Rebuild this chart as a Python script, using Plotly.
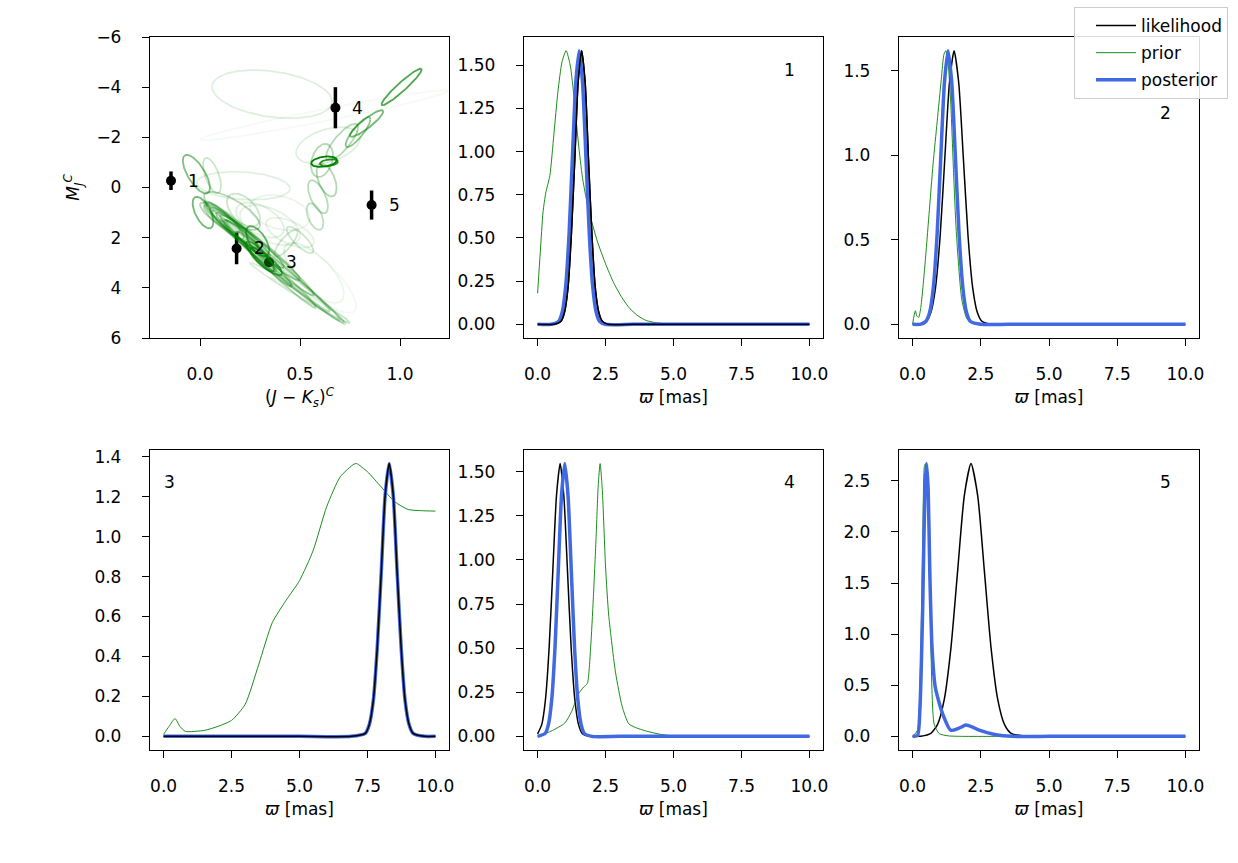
import numpy as np
import plotly.graph_objects as go

# ---------------- colour-magnitude diagram data ----------------
star_ids = ["1", "2", "3", "4", "5"]
star_color = [-0.145, 0.183, 0.345, 0.677, 0.858]
star_mag = [-0.27, 2.43, 2.98, -3.18, 0.70]
star_mag_err = [0.37, 0.63, 0.06, 0.82, 0.58]

# prior mixture components: centre, sigma_colour, sigma_mag, correlation, weight(alpha)
ell_cx = [0.36, 0.62, 1.008, 0.833, 0.79, 0.71, 0.64, 0.61, 0.62, 0.645, 0.633, 0.59, 0.575, 0.50, 0.43,
          -0.018, 0.06, 0.015, 0.217, 0.16, 0.217, 0.288, 0.30, 0.35, 0.40, 0.45, 0.57, 0.60,
          0.40, 0.42, 0.38, 0.45, 0.35, 0.30, 0.25, 0.20, 0.16, 0.33, 0.30, 0.50, 0.55, 0.10, 0.13,
          0.12, 0.18, 0.24, 0.28, 0.34, 0.40]
ell_cy = [-3.72, -2.88, -4.01, -2.55, -2.21, -1.81, -1.68, -1.08, -1.03, -0.99, -0.30, 0.37, 1.16, 2.09, 2.22,
          -0.53, -0.48, 1.00, -0.07, 0.93, 0.90, 2.14, 1.30, 1.50, 1.00, 1.80, 3.40, 3.60,
          3.30, 3.45, 3.10, 3.70, 2.80, 2.40, 2.10, 1.80, 1.50, 2.95, 2.75, 4.20, 4.50, 1.20, 1.40,
          1.30, 1.75, 2.20, 2.55, 3.05, 3.50]
ell_sx = [0.30, 0.62, 0.10, 0.083, 0.062, 0.08, 0.16, 0.055, 0.064, 0.045, 0.05, 0.05, 0.042, 0.067, 0.058,
          0.068, 0.045, 0.052, 0.233, 0.14, 0.083, 0.058, 0.12, 0.15, 0.15, 0.12, 0.15, 0.18,
          0.30, 0.30, 0.27, 0.28, 0.22, 0.20, 0.17, 0.15, 0.13, 0.08, 0.07, 0.25, 0.20, 0.10, 0.11,
          0.10, 0.12, 0.12, 0.10, 0.12, 0.18]
ell_sy = [0.96, 1.00, 0.73, 0.53, 0.60, 0.73, 0.73, 0.66, 0.21, 0.14, 0.66, 0.66, 0.53, 0.53, 0.53,
          0.77, 0.70, 0.63, 0.56, 0.76, 0.66, 0.60, 0.70, 0.80, 0.70, 0.60, 1.20, 1.40,
          2.00, 1.95, 1.85, 1.75, 1.50, 1.30, 1.10, 1.00, 0.90, 0.55, 0.60, 1.20, 0.90, 0.60, 0.70,
          0.75, 0.85, 0.90, 0.80, 0.90, 1.30]
ell_rho = [0.30, -0.97, -0.95, -0.90, -0.85, -0.80, -0.40, -0.30, -0.30, -0.30, 0.50, 0.60, 0.50, 0.80, -0.80,
           0.70, 0.60, 0.60, 0.20, 0.75, 0.50, 0.60, 0.50, 0.50, 0.30, 0.60, 0.70, 0.80,
           0.99, 0.992, 0.99, 0.993, 0.98, 0.97, 0.96, 0.95, 0.93, 0.85, 0.85, 0.99, 0.99, 0.85, 0.88,
           0.90, 0.93, 0.95, 0.95, 0.97, 0.985]
ell_alpha = [0.13, 0.04, 0.70, 0.55, 0.45, 0.30, 0.12, 0.30, 1.00, 0.85, 0.30, 0.28, 0.25, 0.20, 0.20,
             0.50, 0.20, 0.55, 0.12, 0.30, 0.20, 0.60, 0.12, 0.10, 0.08, 0.10, 0.07, 0.05,
             0.22, 0.22, 0.28, 0.18, 0.35, 0.38, 0.40, 0.40, 0.40, 0.70, 0.60, 0.14, 0.08, 0.30, 0.30,
             0.35, 0.35, 0.35, 0.40, 0.45, 0.30]

# ---------------- parallax densities ----------------
# star 1
lik1_x = [0, 0.6, 0.86, 0.99, 1.12, 1.24, 1.37, 1.49, 1.62, 1.75, 1.87, 2.00, 2.12, 2.25, 2.38, 2.6, 3.5, 5, 7.5, 10]
lik1_y = [0, 0, 0.018, 0.070, 0.214, 0.514, 0.961, 1.398, 1.584, 1.398, 0.961, 0.514, 0.214, 0.070, 0.018, 0,
          0, 0, 0, 0]
pri1_x = [0, 0.1, 0.2, 0.3, 0.45, 0.6, 0.75, 0.9, 1.05, 1.2, 1.35, 1.5, 1.65, 1.8, 2.0, 2.2, 2.5, 2.8, 3.1,
          3.4, 3.7, 4.0, 4.4, 5.0, 6.0, 7.5, 10]
pri1_y = [0.18, 0.42, 0.65, 0.76, 0.86, 1.10, 1.35, 1.52, 1.584, 1.50, 1.30, 1.05, 0.85, 0.72, 0.59, 0.48,
          0.35, 0.24, 0.155, 0.09, 0.048, 0.022, 0.008, 0.001, 0, 0, 0]
pos1_x = [0, 0.5, 0.78, 0.905, 1.03, 1.155, 1.28, 1.405, 1.53, 1.655, 1.78, 1.905, 2.03, 2.155, 2.28, 2.5,
          3.5, 5, 7.5, 10]
pos1_y = [0, 0, 0.018, 0.070, 0.214, 0.514, 0.961, 1.398, 1.584, 1.398, 0.961, 0.514, 0.214, 0.070, 0.018, 0,
          0, 0, 0, 0]

# star 2
lik2_x = [0, 0.3, 0.5, 0.67, 0.84, 1.01, 1.18, 1.35, 1.52, 1.69, 1.86, 2.03, 2.2, 2.37, 2.54, 2.9, 4, 5.5, 7.5, 10]
lik2_y = [0, 0.001, 0.018, 0.071, 0.219, 0.526, 0.983, 1.430, 1.62, 1.430, 0.983, 0.526, 0.219, 0.071, 0.018, 0,
          0, 0, 0, 0]
pri2_x = [0, 0.05, 0.1, 0.15, 0.22, 0.3, 0.45, 0.6, 0.75, 0.9, 1.05, 1.15, 1.22, 1.3, 1.4, 1.5, 1.6, 1.8,
          2.0, 2.3, 3.5, 5.5, 7.5, 10]
pri2_y = [0, 0.05, 0.08, 0.05, 0.04, 0.10, 0.35, 0.65, 0.95, 1.20, 1.45, 1.60, 1.62, 1.55, 1.30, 0.90,
          0.55, 0.15, 0.03, 0, 0, 0, 0, 0]
pos2_x = [0, 0.3, 0.49, 0.625, 0.76, 0.895, 1.03, 1.165, 1.3, 1.435, 1.57, 1.705, 1.84, 1.975, 2.11, 2.5,
          3.5, 5.5, 7.5, 10]
pos2_y = [0, 0.001, 0.018, 0.071, 0.219, 0.526, 0.983, 1.430, 1.62, 1.430, 0.983, 0.526, 0.219, 0.071, 0.018, 0,
          0, 0, 0, 0]

# star 3
lik3_x = [0, 2.5, 5, 6.9, 7.42, 7.57, 7.72, 7.86, 8.01, 8.15, 8.3, 8.45, 8.59, 8.74, 8.88, 9.03, 9.18, 9.6, 10]
lik3_y = [0, 0, 0, 0, 0.015, 0.060, 0.185, 0.444, 0.828, 1.205, 1.366, 1.205, 0.828, 0.444, 0.185, 0.060,
          0.015, 0, 0]
pri3_x = [0, 0.2, 0.42, 0.6, 0.8, 1.5, 2.0, 2.5, 3.0, 3.5, 4.0, 4.5, 5.0, 5.5, 6.0, 6.5, 7.0, 7.1, 7.5,
          8.0, 8.5, 9.0, 9.5, 10]
pri3_y = [0.01, 0.05, 0.089, 0.05, 0.025, 0.03, 0.05, 0.08, 0.16, 0.36, 0.57, 0.68, 0.78, 0.93, 1.15,
          1.30, 1.363, 1.366, 1.325, 1.25, 1.175, 1.136, 1.13, 1.128]
pos3_x = [0, 2.5, 5, 6.9, 7.42, 7.57, 7.72, 7.86, 8.01, 8.15, 8.3, 8.45, 8.59, 8.74, 8.88, 9.03, 9.18, 9.6, 10]
pos3_y = [0, 0, 0, 0, 0.015, 0.060, 0.185, 0.444, 0.828, 1.205, 1.366, 1.205, 0.828, 0.444, 0.185, 0.060,
          0.015, 0, 0]

# star 4
lik4_x = [0, 0.155, 0.29, 0.425, 0.56, 0.695, 0.83, 0.965, 1.1, 1.235, 1.37, 1.505, 1.64, 1.9, 3, 5, 7.5, 10]
lik4_y = [0.014, 0.068, 0.209, 0.502, 0.938, 1.364, 1.546, 1.364, 0.938, 0.502, 0.209, 0.068, 0.017, 0.001,
          0, 0, 0, 0]
pri4_x = [0, 0.5, 1.0, 1.25, 1.5, 1.7, 1.83, 1.95, 2.05, 2.15, 2.23, 2.3, 2.38, 2.5, 2.62, 2.87, 3.11,
          3.35, 3.6, 4.0, 4.5, 5.0, 6.5, 8, 10]
pri4_y = [0, 0.03, 0.075, 0.14, 0.24, 0.28, 0.30, 0.50, 0.78, 1.12, 1.42, 1.546, 1.40, 0.96, 0.68, 0.36,
          0.17, 0.072, 0.05, 0.03, 0.012, 0.003, 0, 0, 0]
pos4_x = [0, 0.28, 0.4, 0.52, 0.64, 0.76, 0.88, 1.0, 1.12, 1.24, 1.36, 1.48, 1.6, 1.72, 2.0, 3, 5, 7.5, 10]
pos4_y = [0, 0.017, 0.068, 0.209, 0.502, 0.938, 1.364, 1.546, 1.364, 0.938, 0.502, 0.209, 0.068, 0.017, 0,
          0, 0, 0, 0]

# star 5
lik5_x = [0, 0.3, 0.67, 0.915, 1.16, 1.405, 1.65, 1.895, 2.14, 2.385, 2.63, 2.875, 3.12, 3.365, 3.61, 4.2,
          5.5, 7.5, 10]
lik5_y = [0, 0.002, 0.030, 0.117, 0.361, 0.866, 1.618, 2.355, 2.668, 2.355, 1.618, 0.866, 0.361, 0.117,
          0.030, 0, 0, 0, 0]
pri5_x = [0, 0.18, 0.28, 0.37, 0.43, 0.47, 0.52, 0.61, 0.67, 0.79, 0.98, 1.3, 1.83, 3, 5, 7.5, 10]
pri5_y = [0, 0.06, 0.61, 1.92, 2.64, 2.668, 2.50, 1.92, 0.87, 0.12, 0.026, 0.005, 0, 0, 0, 0, 0]
pos5_x = [0, 0.18, 0.27, 0.37, 0.45, 0.51, 0.57, 0.63, 0.71, 0.83, 1.1, 1.4, 1.7, 1.95, 2.2, 2.44, 3.05,
          3.66, 5, 7.5, 10]
pos5_y = [0, 0.01, 0.29, 1.27, 2.41, 2.668, 2.41, 1.60, 0.87, 0.48, 0.22, 0.06, 0.08, 0.11, 0.09, 0.06,
          0.016, 0, 0, 0, 0]

lik_x = [lik1_x, lik2_x, lik3_x, lik4_x, lik5_x]
lik_y = [lik1_y, lik2_y, lik3_y, lik4_y, lik5_y]
pri_x = [pri1_x, pri2_x, pri3_x, pri4_x, pri5_x]
pri_y = [pri1_y, pri2_y, pri3_y, pri4_y, pri5_y]
pos_x = [pos1_x, pos2_x, pos3_x, pos4_x, pos5_x]
pos_y = [pos1_y, pos2_y, pos3_y, pos4_y, pos5_y]

# ---------------- figure ----------------
W, H = 1238, 863
FONT = "DejaVu Sans"
FS = 17

def px_x(a, b):
    return [a / W, b / W]

def px_y(top, bot):
    return [1 - bot / H, 1 - top / H]

fig = go.Figure()

# CMD points with error bars
fig.add_trace(go.Scatter(
    x=star_color, y=star_mag, mode="markers",
    marker=dict(color="black", size=10),
    error_y=dict(type="data", array=star_mag_err, color="black", thickness=3.5, width=0),
    showlegend=False, xaxis="x", yaxis="y", cliponaxis=False))

# prior mixture ellipses
t = np.linspace(0, 2 * np.pi, 160)
circle = np.vstack([np.cos(t), np.sin(t)])
for cx, cy, sx, sy, r, a in zip(ell_cx, ell_cy, ell_sx, ell_sy, ell_rho, ell_alpha):
    cov = np.array([[sx * sx, r * sx * sy], [r * sx * sy, sy * sy]])
    L = np.linalg.cholesky(cov)
    pts = L @ circle
    fig.add_trace(go.Scatter(
        x=cx + pts[0], y=cy + pts[1], mode="lines",
        line=dict(color=f"rgba(0,128,0,{a})", width=1.8),
        showlegend=False, hoverinfo="skip", xaxis="x", yaxis="y"))

# point labels
for sid, cx, cy in zip(star_ids, star_color, star_mag):
    fig.add_annotation(x=cx + 0.075, y=cy, text=sid, showarrow=False, xanchor="left",
                       yanchor="middle", xref="x", yref="y",
                       font=dict(family=FONT, size=FS, color="black"))

# density panels
for i in range(5):
    ax = str(i + 2)
    first = (i == 0)
    fig.add_trace(go.Scatter(x=lik_x[i], y=lik_y[i], mode="lines", name="likelihood",
                             line=dict(color="black", width=1.5, shape="spline", smoothing=0.6),
                             showlegend=first, legendgroup="a", xaxis="x" + ax, yaxis="y" + ax))
    fig.add_trace(go.Scatter(x=pri_x[i], y=pri_y[i], mode="lines", name="prior",
                             line=dict(color="green", width=0.9, shape="spline", smoothing=0.6),
                             showlegend=first, legendgroup="b", xaxis="x" + ax, yaxis="y" + ax))
    fig.add_trace(go.Scatter(x=pos_x[i], y=pos_y[i], mode="lines", name="posterior",
                             line=dict(color="royalblue", width=3.5, shape="spline", smoothing=0.6),
                             showlegend=first, legendgroup="c", xaxis="x" + ax, yaxis="y" + ax))
    if i in (0, 2):
        fig.add_trace(go.Scatter(x=lik_x[i], y=lik_y[i], mode="lines", name="likelihood",
                                 line=dict(color="black", width=1.5, shape="spline", smoothing=0.6),
                                 showlegend=False, xaxis="x" + ax, yaxis="y" + ax, hoverinfo="skip"))

axis_common = dict(showline=True, linecolor="black", linewidth=1.3, mirror=True, ticks="outside",
                   ticklen=7, tickwidth=1.3, tickcolor="black", showgrid=False, zeroline=False,
                   automargin=False, tickfont=dict(family=FONT, size=FS, color="black"))

xdoms = [px_x(150, 449), px_x(524, 823), px_x(899, 1199)]
ydoms = [px_y(37, 338), px_y(450, 750)]
title_font = dict(family=FONT, size=FS, color="black")

fig.update_layout(
    xaxis=dict(domain=xdoms[0], range=[-0.25, 1.245], tickvals=[0.0, 0.5, 1.0], tickformat=".1f",
               anchor="y", ticklabelstandoff=13,
               title=dict(text="(<i>J</i> − <i>K<sub>s</sub></i>)<sup><i>C</i></sup>",
                          font=title_font, standoff=8),
               **axis_common),
    yaxis=dict(domain=ydoms[0], range=[6, -6], tickvals=[-6, -4, -2, 0, 2, 4, 6], anchor="x",
               ticklabelstandoff=17,
               title=dict(text="<i>M<sub>J</sub><sup>C</sup></i>", font=title_font, standoff=12),
               **axis_common),
)

yranges = [[-0.0792, 1.663], [-0.081, 1.701], [-0.0683, 1.434], [-0.0773, 1.623], [-0.1334, 2.801]]
yticks = [[0, 0.25, 0.5, 0.75, 1.0, 1.25, 1.5], [0, 0.5, 1.0, 1.5], [0, 0.2, 0.4, 0.6, 0.8, 1.0, 1.2, 1.4],
          [0, 0.25, 0.5, 0.75, 1.0, 1.25, 1.5], [0, 0.5, 1.0, 1.5, 2.0, 2.5]]
yfmts = [".2f", ".1f", ".1f", ".2f", ".1f"]
positions = [(1, 0), (2, 0), (0, 1), (1, 1), (2, 1)]
label_pos = [(0.889, 0.89), (0.887, 0.747), (0.064, 0.894), (0.889, 0.894), (0.887, 0.894)]

for i in range(5):
    n = i + 2
    cx_, ry_ = positions[i]
    fig.update_layout({
        f"xaxis{n}": dict(domain=xdoms[cx_], range=[-0.5, 10.5], tickvals=[0, 2.5, 5, 7.5, 10],
                          tickformat=".1f", anchor=f"y{n}", ticklabelstandoff=13,
                          title=dict(text="<i>ϖ</i> [mas]", font=title_font, standoff=8),
                          **axis_common),
        f"yaxis{n}": dict(domain=ydoms[ry_], range=yranges[i], tickvals=yticks[i], tickformat=yfmts[i],
                          anchor=f"x{n}", ticklabelstandoff=17, **axis_common),
    })
    lx, ly = label_pos[i]
    fig.add_annotation(x=lx, y=ly, xref=f"x{n} domain", yref=f"y{n} domain", text=star_ids[i],
                       showarrow=False, xanchor="center", yanchor="middle",
                       font=dict(family=FONT, size=FS, color="black"))

fig.update_layout(
    width=W, height=H, margin=dict(l=0, r=0, t=0, b=0, autoexpand=False),
    paper_bgcolor="white", plot_bgcolor="white",
    font=dict(family=FONT, size=FS, color="black"),
    legend=dict(x=1228 / W, y=1 - 7 / H, xanchor="right", yanchor="top",
                bgcolor="rgba(255,255,255,0.85)", bordercolor="#cccccc", borderwidth=1,
                itemwidth=40, indentation=16,
                font=dict(family=FONT, size=FS, color="black"), tracegroupgap=2),
    showlegend=True,
)

fig.write_html("out.html")
